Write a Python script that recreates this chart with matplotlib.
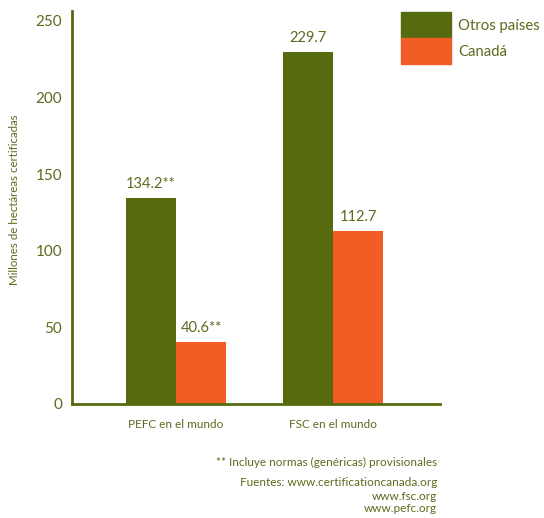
# Hectáreas certificadas: PEFC vs FSC
import matplotlib.pyplot as plt
from matplotlib.patches import Patch

plt.rcParams['font.family'] = ['Lato', 'DejaVu Sans']

groups = ['PEFC en el mundo', 'FSC en el mundo']
otros = [134.2, 229.7]
canada = [40.6, 112.7]
otros_labels = ['134.2**', '229.7']
canada_labels = ['40.6**', '112.7']
yticks = [0, 50, 100, 150, 200, 250]

olive = '#566b10'
orange = '#f15d24'
text_col = '#5c6b1e'

fig = plt.figure(figsize=(5.44, 5.18), dpi=100)
ax = fig.add_axes([0.1324, 0.2201, 0.6766, 0.7587])

x = [0, 1]
w = 0.318
b1 = ax.bar([i - w / 2 for i in x], otros, width=w, color=olive)
b2 = ax.bar([i + w / 2 for i in x], canada, width=w, color=orange)

ax.bar_label(b1, labels=otros_labels, padding=5, color=text_col, fontsize=10.5)
ax.bar_label(b2, labels=canada_labels, padding=5, color=text_col, fontsize=10.5)

ax.set_xlim(-0.662, 1.68)
ax.set_ylim(0, 256.5)
ax.set_xticks(x)
ax.set_xticklabels(groups, fontsize=8.5, color=text_col)
ax.set_yticks(yticks)
ax.tick_params(axis='y', labelsize=11, colors=text_col, length=0, pad=7)
ax.tick_params(axis='x', length=0, pad=11)

for s in ['top', 'right']:
    ax.spines[s].set_visible(False)
for s in ['left', 'bottom']:
    ax.spines[s].set_color(olive)
    ax.spines[s].set_linewidth(2)

ax.set_ylabel('Millones de hectáreas certificadas', fontsize=8.3, color=text_col)
ax.yaxis.set_label_coords(-0.142, 0.52)

handles = [Patch(color=olive), Patch(color=orange)]
fig.legend(handles, ['Otros países', 'Canadá'], loc='upper left',
           bbox_to_anchor=(401 / 544, 1 - 12 / 518), frameon=False,
           fontsize=10.7, labelcolor=text_col, handlelength=3.36, handleheight=2.34,
           labelspacing=0, borderpad=0, borderaxespad=0, handletextpad=0.5)

fig.text(437 / 544, 1 - 462 / 518, '** Incluye normas (genéricas) provisionales',
         ha='right', va='center', fontsize=8.5, color=text_col)
fig.text(437 / 544, 1 - 483 / 518, 'Fuentes: www.certificationcanada.org',
         ha='right', va='center', fontsize=8.5, color=text_col)
fig.text(437 / 544, 1 - 496 / 518, 'www.fsc.org',
         ha='right', va='center', fontsize=8.5, color=text_col)
fig.text(437 / 544, 1 - 509 / 518, 'www.pefc.org',
         ha='right', va='center', fontsize=8.5, color=text_col)

fig.savefig('out.png', dpi=100)
